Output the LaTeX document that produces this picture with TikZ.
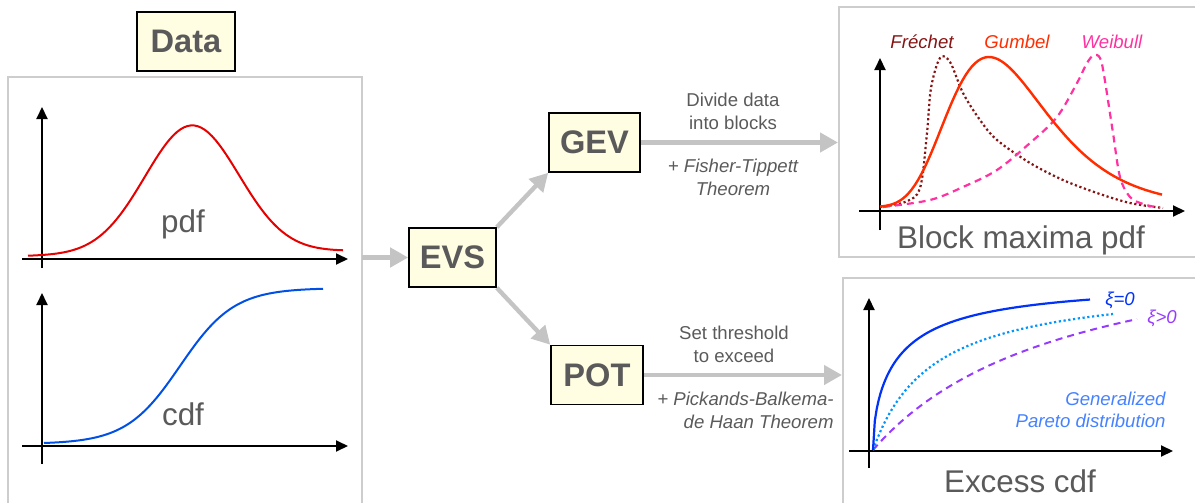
\documentclass[tikz,border=0pt]{standalone}
\usepackage{fontspec}
\setmainfont{Liberation Sans}
\usetikzlibrary{arrows.meta,positioning}
\definecolor{boxfill}{RGB}{255,253,226}
\definecolor{txtgray}{RGB}{90,90,90}
\definecolor{flowgray}{RGB}{196,196,196}
\definecolor{panelgray}{RGB}{205,205,205}
\definecolor{pdfcol}{RGB}{230,0,0}
\definecolor{cdfcol}{RGB}{0,80,230}
\definecolor{gumbelcol}{RGB}{255,45,0}
\definecolor{frechetcol}{RGB}{135,20,20}
\definecolor{weibullcol}{RGB}{255,50,160}
\definecolor{xizerocol}{RGB}{0,50,250}
\definecolor{xidotcol}{RGB}{0,150,255}
\definecolor{xiposcol}{RGB}{150,60,255}
\definecolor{paretocol}{RGB}{70,130,255}

\tikzset{
  stagebox/.style={draw=black,line width=0.8pt,fill=boxfill,text=txtgray,
    font=\bfseries\fontsize{16.3}{18}\selectfont,inner sep=0pt,
    minimum height=29.5pt},
  flow/.style={flowgray,line width=2.2pt,-{Triangle[length=9pt,width=9.5pt]}},
  axis/.style={black,line width=1pt,-{Triangle[length=6pt,width=5.5pt]}},
  panel/.style={panelgray,line width=0.8pt},
  steplabel/.style={text=txtgray,align=center,inner sep=0pt,
    font=\fontsize{9.3}{11.5}\selectfont},
  theorem/.style={steplabel,font=\itshape\fontsize{9.3}{11.5}\selectfont},
  bigtext/.style={text=txtgray,anchor=base,inner sep=0pt,
    font=\fontsize{15.7}{18}\selectfont},
  curvetag/.style={anchor=base,inner sep=0pt,font=\itshape\fontsize{9.3}{11}\selectfont}
}

\begin{document}
\begin{tikzpicture}[x=0.5pt,y=-0.5pt]
\clip (0,0) rectangle (1195,503);
\useasboundingbox (0,0) rectangle (1195,503);
% panels
\draw[panel] (8,77) rectangle (362,520);
\draw[panel] (839,7) rectangle (1210,257);
\draw[panel] (843,278) rectangle (1210,520);

% left: data pdf and cdf
\node[stagebox,minimum width=49pt] (data) at (186,41.5) {Data};
\draw[axis] (42,268) -- (42,107);
\draw[axis] (22,259) -- (348,259);
\draw[pdfcol,line width=1pt] plot[domain=28:343,samples=90]
  (\x,{256-5*(\x-28)/315-128*exp(-0.5*((\x-192)/47)^2)});
\node[bigtext] (pdflab) at (183,232) {pdf};
\draw[axis] (42,464) -- (42,293);
\draw[axis] (22,446) -- (348,446);
\draw[cdfcol,line width=1pt] plot[domain=44:323,samples=90]
  (\x,{444-156/(1+exp(-(\x-180)/27))});
\node[bigtext] (cdflab) at (183,425) {cdf};

% middle: methods
\node[stagebox,minimum width=43.5pt] (evs) at (452.5,257.5) {EVS};
\node[stagebox,minimum width=45.5pt] (gev) at (594.5,142.5) {GEV};
\node[stagebox,minimum width=46pt] (pot) at (597,375) {POT};
\coordinate (data-e) at (362,257.5);
\coordinate (bm-w) at (838,142.5);
\coordinate (ex-w) at (842,375);
\draw[flow] (data-e) -- (evs);
\draw[flow] (evs.north east) -- (gev.south west);
\draw[flow] (evs.south east) -- (pot.north west);
\draw[flow] (gev) -- (bm-w);
\draw[flow] (pot) -- (ex-w);
\node[steplabel] (gevstep) at (733,111) {Divide data\\into blocks};
\node[theorem] (gevthm) at (733,177.5) {+ Fisher-Tippett\\Theorem};
\node[steplabel] (potstep) at (734,344) {Set threshold\\to exceed};
\node[theorem,align=right,anchor=east] (potthm) at (834,410.5)
  {+ Pickands-Balkema-\\de Haan Theorem};

% right top: block maxima
\draw[axis] (880,230) -- (880,58);
\draw[axis] (859,211) -- (1185,211);
\draw[frechetcol,line width=1.1pt,dash pattern=on 1.1pt off 1.3pt]
  plot[smooth,tension=0.55] coordinates {(880,207) (905,202) (920,188)
  (927,133) (931,88) (940,58) (950,62) (963,93) (980,120) (997,140)
  (1030,163) (1063,180) (1097,193) (1130,203) (1163,208)};
\draw[weibullcol,line width=1.1pt,dash pattern=on 3.5pt off 2.5pt]
  plot[smooth,tension=0.55] coordinates {(883,207) (930,200) (963,187)
  (997,170) (1030,143) (1057,117) (1077,83) (1087,63) (1094,55) (1100,58)
  (1104,75) (1113,133) (1120,177) (1130,197) (1143,204) (1160,208)};
\draw[gumbelcol,line width=1.2pt] plot[domain=880:1162,samples=90]
  (\x,{207-150*exp(1-(\x-989)/50-exp(-(\x-989)/50))});
\node[curvetag,text=frechetcol] (frechet) at (922,48) {Fréchet};
\node[curvetag,text=gumbelcol] (gumbel) at (1017,48) {Gumbel};
\node[curvetag,text=weibullcol] (weibull) at (1112,48) {Weibull};
\node[bigtext] (bmlab) at (1021,248) {Block maxima pdf};

% right bottom: excess over threshold (x measured from the origin at 873)
\draw[axis] (869,468) -- (869,298);
\draw[axis] (849,451) -- (1173,451);
\draw[xiposcol,line width=1pt,dash pattern=on 3.5pt off 2.5pt]
  plot[domain=0:264,samples=60] ({873+\x},{450-230*(\x/(\x+200))});
\draw[xidotcol,line width=1.1pt,dash pattern=on 1.1pt off 1.3pt]
  plot[domain=0:240,samples=60] ({873+\x},{450-170*(\x/(\x+60))});
\draw[xizerocol,line width=1.1pt]
  plot[domain=0:217,samples=120] ({873+\x},{450-170*sqrt(\x/(\x+60))});
\node[curvetag,text=xizerocol] (xizero) at (1120,305) {ξ=0};
\node[curvetag,text=xiposcol] (xipos) at (1162,323) {ξ>0};
\node[curvetag,text=paretocol,anchor=east,align=right] (pareto) at (1166,410)
  {Generalized\\Pareto distribution};
\node[bigtext] (exlab) at (1020,492) {Excess cdf};
\end{tikzpicture}
\end{document}
